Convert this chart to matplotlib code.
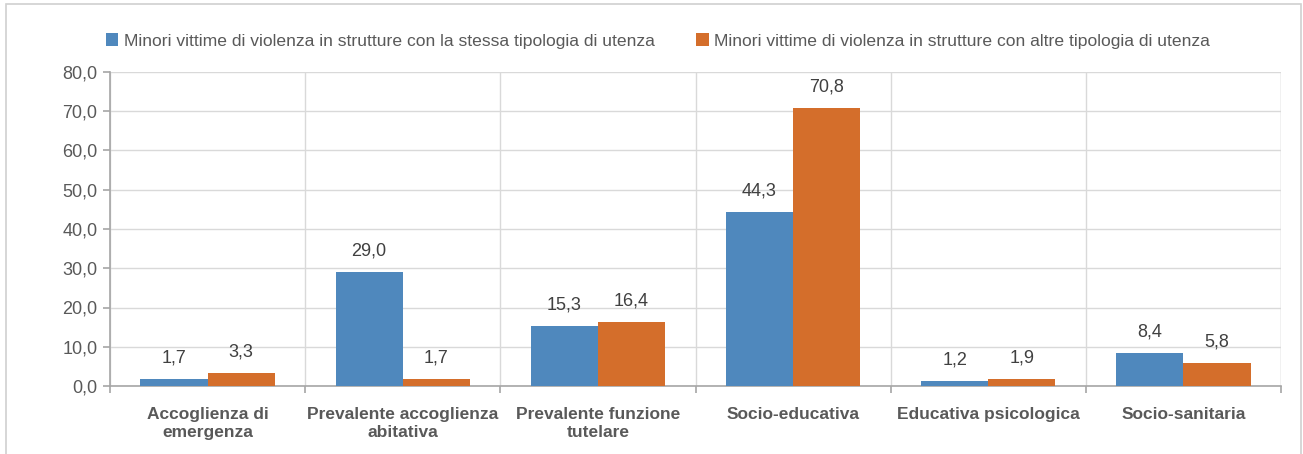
import numpy as np
import matplotlib.pyplot as plt
from matplotlib.patches import Rectangle
from matplotlib import font_manager

names = {f.name for f in font_manager.fontManager.ttflist}
fam = ["Liberation Sans Narrow", "DejaVu Sans"] if "Liberation Sans Narrow" in names else ["Liberation Sans", "DejaVu Sans"]
plt.rcParams["font.family"] = fam

categories = ["Accoglienza di\nemergenza", "Prevalente accoglienza\nabitativa",
              "Prevalente funzione\ntutelare", "Socio-educativa",
              "Educativa psicologica", "Socio-sanitaria"]
stessa = [1.7, 29.0, 15.3, 44.3, 1.2, 8.4]
altre = [3.3, 1.7, 16.4, 70.8, 1.9, 5.8]
labels = ["Minori vittime di violenza in strutture con la stessa tipologia di utenza",
          "Minori vittime di violenza in strutture con altre tipologia di utenza"]

blue = "#4F88BD"
orange = "#D46E2B"
txt = "#595959"

fig = plt.figure(figsize=(13.03, 4.54), dpi=100)
ax = fig.add_axes([110 / 1303, 1 - 386 / 454, (1281 - 110) / 1303, (386 - 72) / 454])

# outer frame
fig.patches.append(Rectangle((6 / 1303, -0.1), (1301 - 6) / 1303, 1.1 - 4 / 454,
                             transform=fig.transFigure, fill=False, edgecolor="#D0D0D0", lw=1.2))

x = np.arange(len(categories))
w = 0.344
b1 = ax.bar(x - w / 2, stessa, w, color=blue, label=labels[0], zorder=3)
b2 = ax.bar(x + w / 2, altre, w, color=orange, label=labels[1], zorder=3)

for bars, vals in [(b1, stessa), (b2, altre)]:
    for r, v in zip(bars, vals):
        ax.annotate(f"{v:.1f}".replace(".", ","), (r.get_x() + r.get_width() / 2, v),
                    xytext=(0, 9), textcoords="offset points", ha="center", va="bottom",
                    fontsize=13, color="#404040")

ax.set_xlim(-0.5, len(categories) - 0.5)
ax.set_ylim(0, 80)
ax.set_yticks(np.arange(0, 81, 10))
ax.set_yticklabels([f"{v:.1f}".replace(".", ",") for v in np.arange(0, 81, 10)],
                   fontsize=13, color=txt)
ax.set_xticks(x)
ax.set_xticklabels(categories, fontsize=12.5, fontweight="bold", color=txt, linespacing=1.3)
ax.set_xticks(np.arange(-0.5, len(categories)), minor=True)
ax.tick_params(axis="x", which="major", length=0, pad=15)
ax.tick_params(axis="x", which="minor", length=5, color="#A6A6A6", width=1.2)
ax.tick_params(axis="y", length=5, color="#A6A6A6", width=1.2, pad=4)

ax.grid(axis="y", color="#D9D9D9", lw=1, zorder=0)
ax.grid(axis="x", which="minor", color="#D9D9D9", lw=1, zorder=0)
for s in ["top", "right"]:
    ax.spines[s].set_visible(False)
for s in ["left", "bottom"]:
    ax.spines[s].set_color("#A6A6A6")
    ax.spines[s].set_linewidth(1.2)
ax.axvline(len(categories) - 0.5, color="#D9D9D9", lw=1, zorder=0)

leg = fig.legend(loc="center", bbox_to_anchor=(658 / 1303, 1 - 41 / 454), ncol=2,
                 frameon=False, fontsize=12.6, handlelength=0.7, handleheight=0.7,
                 handletextpad=0.3, columnspacing=2.4)
for t in leg.get_texts():
    t.set_color(txt)

fig.savefig("out.png", dpi=100)
